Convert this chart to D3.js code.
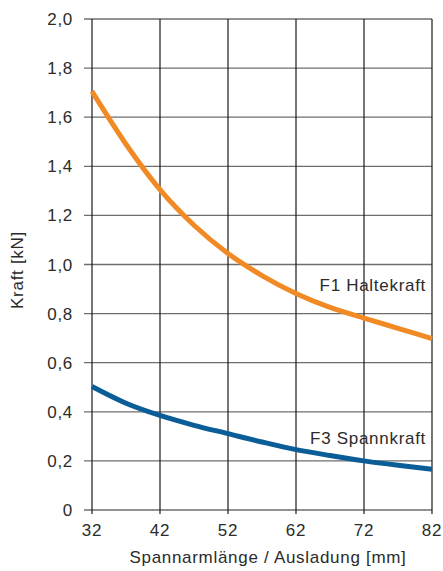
<!DOCTYPE html>
<html>
<head>
<meta charset="utf-8">
<script src="https://cdn.jsdelivr.net/npm/d3@7"></script>
<style>
  body { margin: 0; background: #fff; }
  text { font-family: "Liberation Sans", Arial, Helvetica, sans-serif; fill: #2b2b2b; font-size: 17px; letter-spacing: 0.7px; }
</style>
</head>
<body>
<div id="chart"></div>
<script>
// arm length (mm)
let lengths = [32, 37, 42, 47, 52, 57, 62, 67, 72, 77, 82];
// F1 holding force (kN)
let haltekraft = [1.705, 1.49, 1.305, 1.16, 1.045, 0.955, 0.882, 0.825, 0.782, 0.74, 0.698];
// F3 clamping force (kN)
let spannkraft = [0.503, 0.435, 0.385, 0.345, 0.311, 0.277, 0.246, 0.222, 0.200, 0.182, 0.166];
let xTicks = [32, 42, 52, 62, 72, 82];
let yTicks = [0, 0.2, 0.4, 0.6, 0.8, 1.0, 1.2, 1.4, 1.6, 1.8, 2.0];
let seriesNames = ["F1 Haltekraft", "F3 Spannkraft"];

let width = 443, height = 571;
let margin = {left: 92, right: 11, top: 19, bottom: 61};

let svg = d3.select("#chart").append("svg")
    .attr("width", width)
    .attr("height", height);

let x = d3.scaleLinear().domain([32, 82]).range([margin.left, width - margin.right]);
let y = d3.scaleLinear().domain([0, 2]).range([height - margin.bottom, margin.top]);

// horizontal grid (gray) with little ticks to the left
svg.selectAll("line.h")
    .data(yTicks).enter()
    .append("line")
    .attr("x1", margin.left - 8)
    .attr("x2", width - margin.right)
    .attr("y1", d => y(d))
    .attr("y2", d => y(d))
    .attr("stroke", "#6e6e6e")
    .attr("stroke-width", 1.3);

// vertical grid (black)
svg.selectAll("line.v")
    .data(xTicks).enter()
    .append("line")
    .attr("x1", d => x(d))
    .attr("x2", d => x(d))
    .attr("y1", y(2))
    .attr("y2", y(0) + 4)
    .attr("stroke", "#1a1a1a")
    .attr("stroke-width", 1.2);

// tick labels
svg.selectAll("text.yl")
    .data(yTicks).enter()
    .append("text")
    .attr("x", 73)
    .attr("y", d => y(d) + 6)
    .attr("text-anchor", "end")
    .text(d => d == 0 ? "0" : d.toFixed(1).replace(".", ","));

svg.selectAll("text.xl")
    .data(xTicks).enter()
    .append("text")
    .attr("x", d => x(d))
    .attr("y", 536)
    .attr("text-anchor", "middle")
    .text(d => d);

// axis titles
svg.append("text")
    .attr("x", 268)
    .attr("y", 563)
    .attr("text-anchor", "middle")
    .text("Spannarmlänge / Ausladung [mm]");

svg.append("text")
    .attr("transform", "translate(23,270) rotate(-90)")
    .attr("text-anchor", "middle")
    .text("Kraft [kN]");

// curves
let line = d3.line().curve(d3.curveMonotoneX);
let series = [
    {values: haltekraft, color: "#f18a24"},
    {values: spannkraft, color: "#0a5d96"}
];
series.forEach(s => {
    svg.append("path")
        .attr("d", line(lengths.map((d, i) => [x(d), y(s.values[i])])))
        .attr("fill", "none")
        .attr("stroke", s.color)
        .attr("stroke-width", 5);
});

// series labels
svg.append("text")
    .attr("x", 426)
    .attr("y", 291)
    .attr("text-anchor", "end")
    .text(seriesNames[0]);

svg.append("text")
    .attr("x", 426)
    .attr("y", 444)
    .attr("text-anchor", "end")
    .text(seriesNames[1]);
</script>
</body>
</html>
